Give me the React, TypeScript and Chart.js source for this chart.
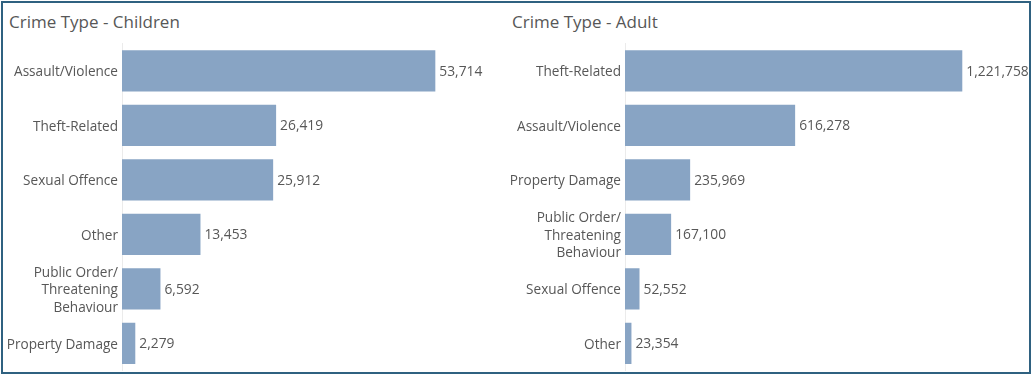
import React, { useEffect, useRef } from "react";
import { Chart, registerables } from "chart.js";

Chart.register(...registerables);

const childCategories: (string | string[])[] = [
  "Assault/Violence",
  "Theft-Related",
  "Sexual Offence",
  "Other",
  ["Public Order/", "Threatening", "Behaviour"],
  "Property Damage",
];
const childValues = [53714, 26419, 25912, 13453, 6592, 2279];

const adultCategories: (string | string[])[] = [
  "Theft-Related",
  "Assault/Violence",
  "Property Damage",
  ["Public Order/", "Threatening", "Behaviour"],
  "Sexual Offence",
  "Other",
];
const adultValues = [1221758, 616278, 235969, 167100, 52552, 23354];

const childAxisMax = 64800;
const adultAxisMax = 1467000;

const FONT = "'Open Sans', sans-serif";
const TEXT = "#575757";
const BAR = "#88a4c4";

const valueLabels = {
  id: "valueLabels",
  afterDatasetsDraw(chart: any) {
    const ctx = chart.ctx;
    const meta = chart.getDatasetMeta(0);
    const data = chart.data.datasets[0].data as number[];
    ctx.save();
    ctx.font = `13.8px ${FONT}`;
    ctx.fillStyle = TEXT;
    ctx.textAlign = "left";
    ctx.textBaseline = "middle";
    meta.data.forEach((el: any, i: number) => {
      ctx.fillText(data[i].toLocaleString("en-US"), el.x + 4, el.y + 1);
    });
    ctx.restore();
  },
};

function Panel({
  categories,
  values,
  max,
  width,
}: {
  categories: (string | string[])[];
  values: number[];
  max: number;
  width: number;
}) {
  const ref = useRef<HTMLCanvasElement>(null);
  useEffect(() => {
    if (!ref.current) return;
    const chart = new Chart(ref.current, {
      type: "bar",
      data: {
        labels: categories as any,
        datasets: [
          {
            data: values,
            backgroundColor: BAR,
            barPercentage: 0.76,
            categoryPercentage: 1,
          },
        ],
      },
      options: {
        indexAxis: "y",
        animation: false,
        responsive: false,
        maintainAspectRatio: false,
        layout: { padding: { top: 3.6, bottom: 3.4, left: 0, right: 0 } },
        plugins: {
          legend: { display: false },
          tooltip: { enabled: false },
        },
        scales: {
          x: { display: false, min: 0, max },
          y: {
            grid: { display: false, drawTicks: false },
            border: { display: true, color: "#ebebeb", width: 1 },
            ticks: {
              color: TEXT,
              padding: 4,
              autoSkip: false,
              labelOffset: 1.5,
              font: { family: FONT, size: 13.6, lineHeight: 1.29 },
            },
            afterFit: (scale: any) => {
              scale.width = 122;
              scale.paddingTop = 0;
              scale.paddingBottom = 0;
            },
          },
        },
      },
      plugins: [valueLabels],
    });
    return () => chart.destroy();
  }, []);
  return <canvas ref={ref} width={width} height={334} style={{ width, height: 334, display: "block" }} />;
}

export default function App() {
  return (
    <div style={{ position: "absolute", left: 0, top: 0, width: 1034, height: 376, background: "#fff", overflow: "hidden" }}>
      <div
        style={{
          position: "absolute",
          left: 1,
          top: 1,
          width: 1030,
          height: 373,
          border: "2px solid #2f6180",
          boxSizing: "border-box",
        }}
      />
      <div style={{ position: "absolute", left: 9, top: 10, font: `17px ${FONT}`, color: TEXT, whiteSpace: "nowrap", lineHeight: "24px" }}>
        Crime Type - Children
      </div>
      <div style={{ position: "absolute", left: 512, top: 10, font: `17px ${FONT}`, color: TEXT, whiteSpace: "nowrap", lineHeight: "24px" }}>
        Crime Type - Adult
      </div>
      <div style={{ position: "absolute", left: 0, top: 40 }}>
        <Panel categories={childCategories} values={childValues} max={childAxisMax} width={500} />
      </div>
      <div style={{ position: "absolute", left: 503, top: 40 }}>
        <Panel categories={adultCategories} values={adultValues} max={adultAxisMax} width={527} />
      </div>
    </div>
  );
}
